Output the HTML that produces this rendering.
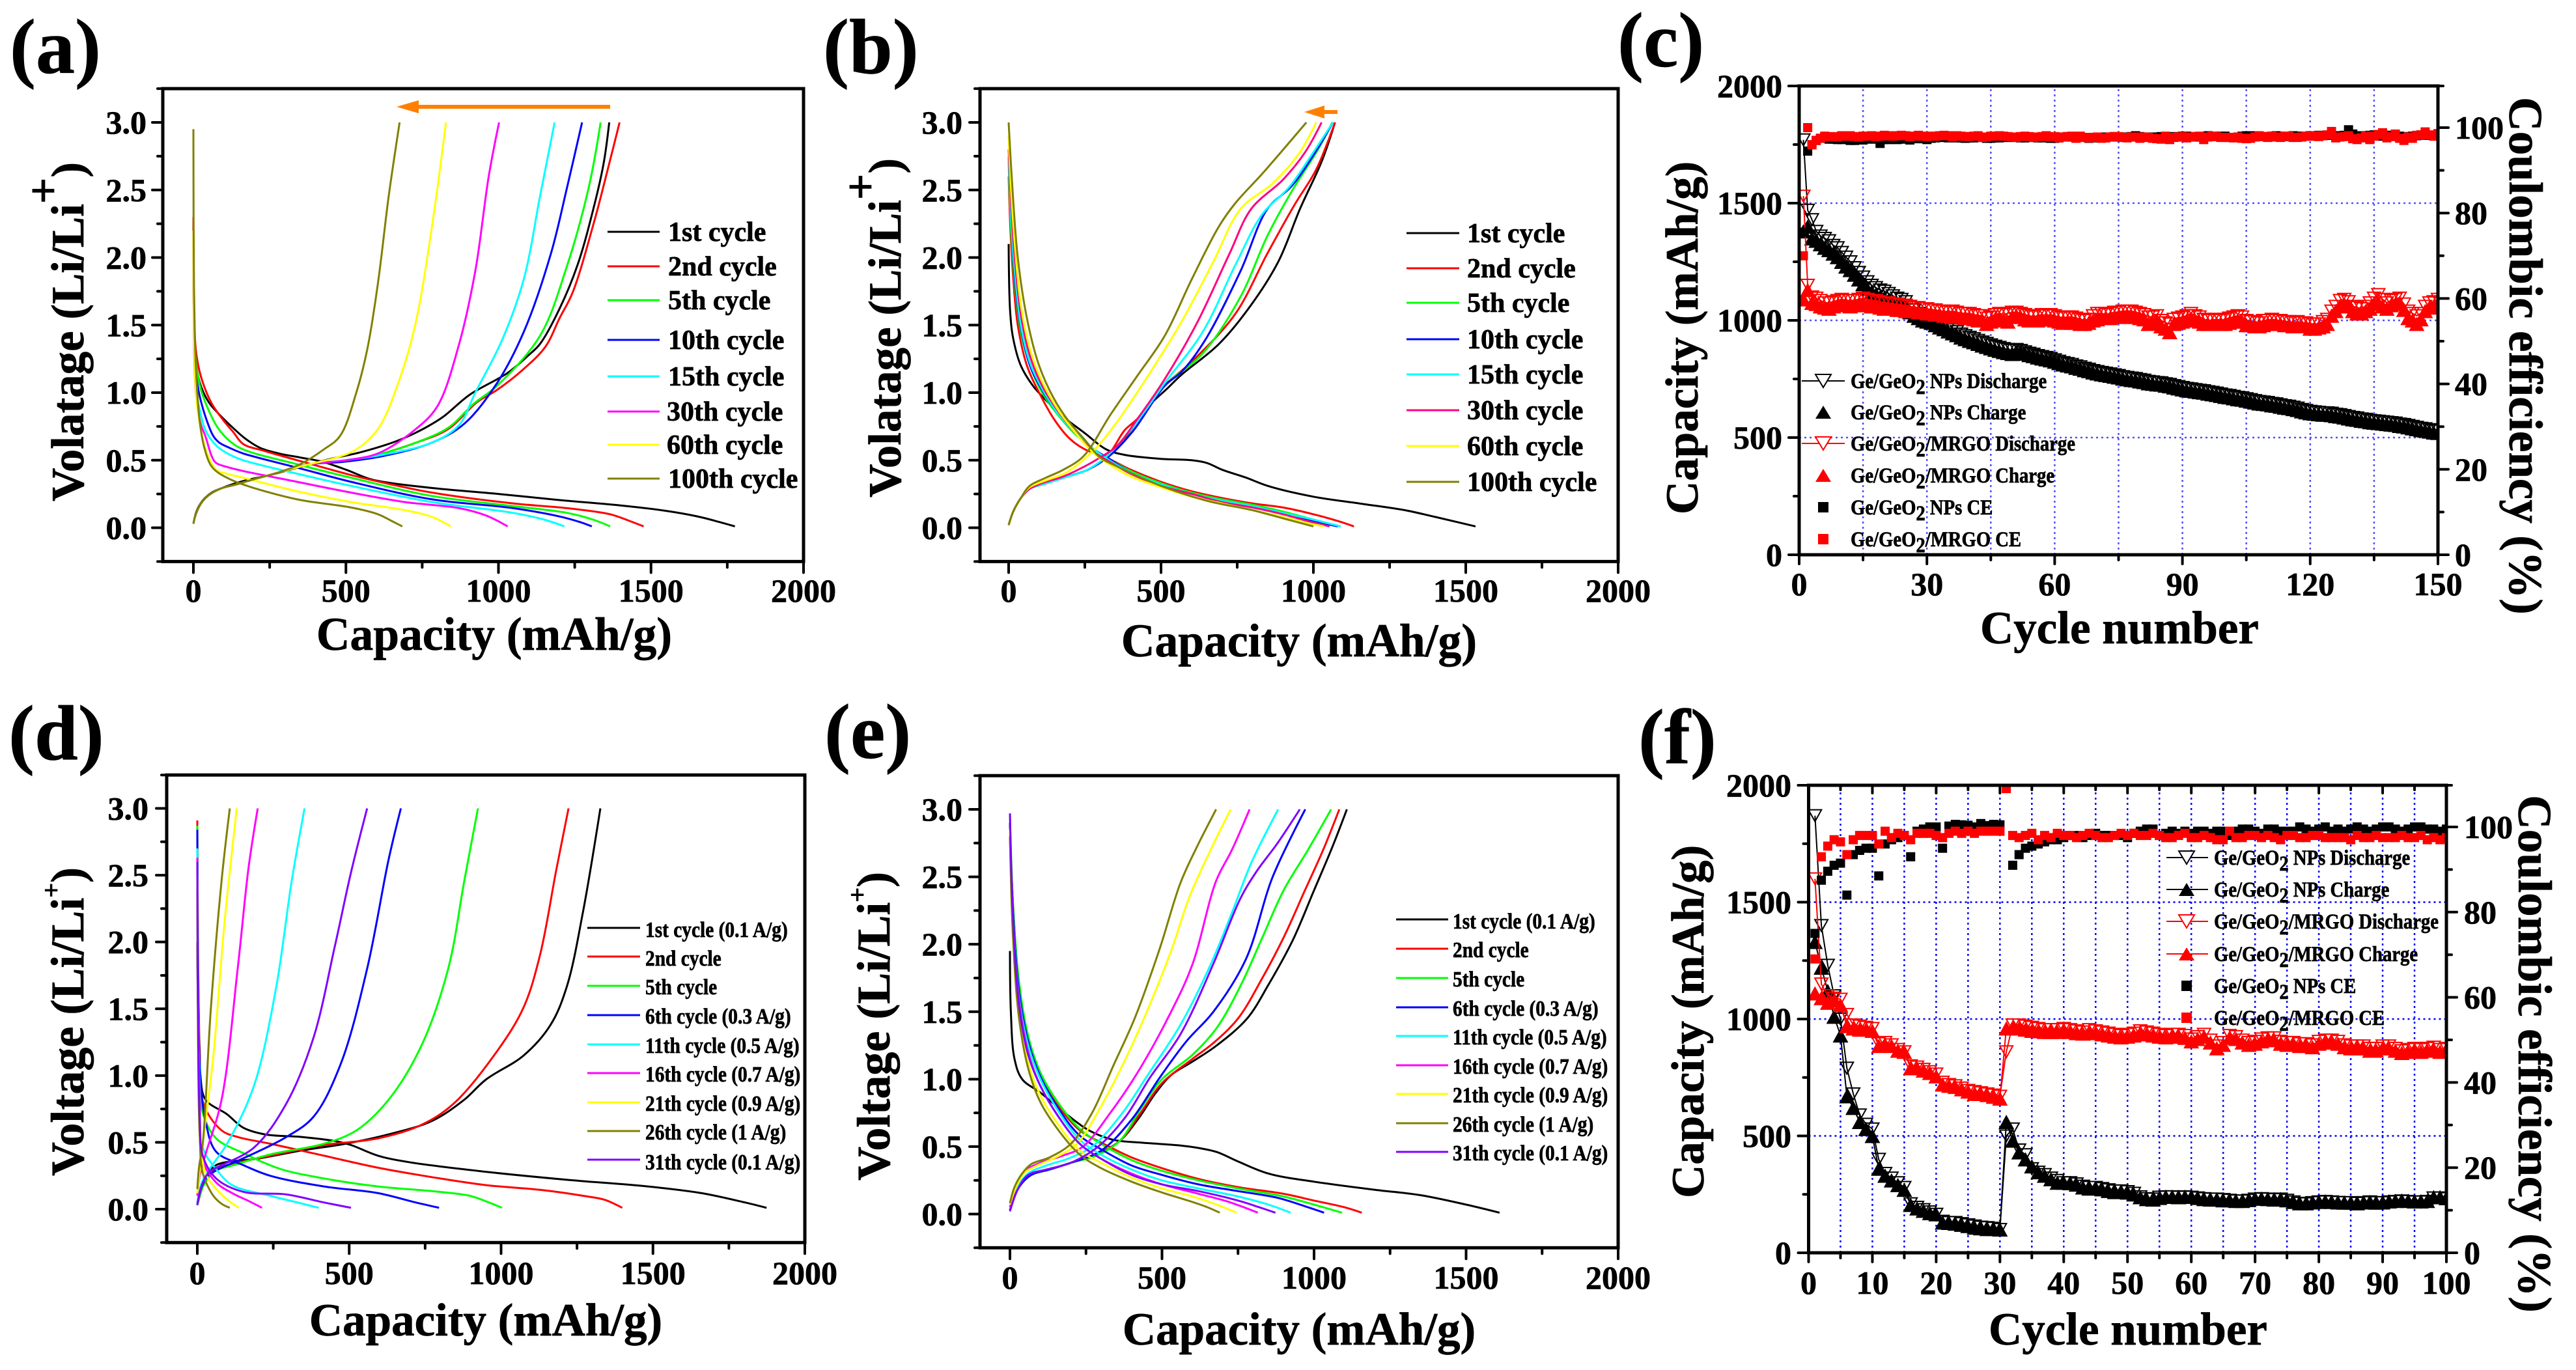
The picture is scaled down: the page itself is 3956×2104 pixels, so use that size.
<!DOCTYPE html>
<html lang="en">
<head>
<meta charset="utf-8">
<title>Electrochemical performance charts</title>
<style>
html,body{margin:0;padding:0;background:#fff;}
svg{display:block;}
text{font-family:"Liberation Serif",serif;font-weight:bold;fill:#000;stroke:#000;stroke-width:0.7px;}
</style>
</head>
<body>
<svg id="figure" xmlns="http://www.w3.org/2000/svg" width="3956" height="2104" viewBox="0 0 3956 2104">
<rect x="0" y="0" width="3956" height="2104" fill="#fff"/>
<defs>
<clipPath id="clipC"><rect x="2763" y="132" width="981" height="720"/></clipPath>
<clipPath id="clipF"><rect x="2777" y="1206" width="980" height="718"/></clipPath>
</defs>

<text x="15" y="112" font-size="120">(a)</text>
<text x="1264" y="112" font-size="120">(b)</text>
<text x="2484" y="102" font-size="120">(c)</text>
<text x="13" y="1166" font-size="120">(d)</text>
<text x="1266" y="1164" font-size="120">(e)</text>
<text x="2516" y="1172" font-size="120">(f)</text>

<g id="plots"></g>

<text x="759" y="998" font-size="71.5" text-anchor="middle">Capacity (mAh/g)</text>
<text x="1995" y="1008" font-size="71.5" text-anchor="middle">Capacity (mAh/g)</text>
<text x="3255" y="988" font-size="71" text-anchor="middle">Cycle number</text>
<text x="746" y="2051" font-size="71" text-anchor="middle">Capacity (mAh/g)</text>
<text x="1995" y="2065" font-size="71" text-anchor="middle">Capacity (mAh/g)</text>
<text x="3268" y="2065" font-size="71" text-anchor="middle">Cycle number</text>

<text transform="translate(128,770) rotate(-90)" font-size="71">Volatage (Li/Li<tspan dy="-38">+</tspan><tspan dy="38">)</tspan></text>
<text transform="translate(1383,764) rotate(-90)" font-size="71">Volatage (Li/Li<tspan dy="-38">+</tspan><tspan dy="38">)</tspan></text>
<text transform="translate(2607,790) rotate(-90)" font-size="71">Capacity (mAh/g)</text>
<text transform="translate(128,1806) rotate(-90)" font-size="72">Voltage (Li/Li<tspan dy="-36" font-size="40">+</tspan><tspan dy="36">)</tspan></text>
<text transform="translate(1366,1813) rotate(-90)" font-size="72">Voltage (Li/Li<tspan dy="-36" font-size="40">+</tspan><tspan dy="36">)</tspan></text>
<text transform="translate(2616,1840) rotate(-90)" font-size="71">Capacity (mAh/g)</text>
<text transform="translate(3854,149) rotate(90)" font-size="73">Coulombic efficiency (%)</text>
<text transform="translate(3868,1221) rotate(90)" font-size="73">Coulombic efficiency (%)</text>

<polygon fill="#ff8000" points="937,161 643,161 643,154 609,164 643,174 643,167 937,167"/>
<polygon fill="#ff8000" points="2054,169 2034,169 2034,162 2003,172 2034,182 2034,175 2054,175"/>

<g id="legend-a" font-size="42">
<text x="1026" y="370">1st cycle</text>
<text x="1026" y="423">2nd cycle</text>
<text x="1026" y="475">5th cycle</text>
<text x="1026" y="536">10th cycle</text>
<text x="1026" y="592">15th cycle</text>
<text x="1024" y="646">30th cycle</text>
<text x="1024" y="697">60th cycle</text>
<text x="1026" y="749">100th cycle</text>
</g>
<g id="legend-b" font-size="42">
<text x="2253" y="372">1st cycle</text>
<text x="2253" y="426">2nd cycle</text>
<text x="2253" y="479">5th cycle</text>
<text x="2253" y="535">10th cycle</text>
<text x="2253" y="589">15th cycle</text>
<text x="2253" y="644">30th cycle</text>
<text x="2253" y="699">60th cycle</text>
<text x="2253" y="754">100th cycle</text>
</g>
<g id="legend-d" font-size="34">
<text transform="translate(991,1439) scale(0.865,1)">1st cycle (0.1 A/g)</text>
<text transform="translate(991,1483) scale(0.865,1)">2nd cycle</text>
<text transform="translate(991,1527) scale(0.865,1)">5th cycle</text>
<text transform="translate(991,1572) scale(0.865,1)">6th cycle (0.3 A/g)</text>
<text transform="translate(991,1617) scale(0.865,1)">11th cycle (0.5 A/g)</text>
<text transform="translate(991,1661) scale(0.865,1)">16th cycle (0.7 A/g)</text>
<text transform="translate(991,1706) scale(0.865,1)">21th cycle (0.9 A/g)</text>
<text transform="translate(991,1750) scale(0.865,1)">26th cycle (1 A/g)</text>
<text transform="translate(991,1796) scale(0.865,1)">31th cycle (0.1 A/g)</text>
</g>
<g id="legend-e" font-size="34">
<text transform="translate(2231,1426) scale(0.865,1)">1st cycle (0.1 A/g)</text>
<text transform="translate(2231,1470) scale(0.865,1)">2nd cycle</text>
<text transform="translate(2231,1515) scale(0.865,1)">5th cycle</text>
<text transform="translate(2231,1560) scale(0.865,1)">6th cycle (0.3 A/g)</text>
<text transform="translate(2231,1604) scale(0.865,1)">11th cycle (0.5 A/g)</text>
<text transform="translate(2231,1649) scale(0.865,1)">16th cycle (0.7 A/g)</text>
<text transform="translate(2231,1693) scale(0.865,1)">21th cycle (0.9 A/g)</text>
<text transform="translate(2231,1738) scale(0.865,1)">26th cycle (1 A/g)</text>
<text transform="translate(2231,1782) scale(0.865,1)">31th cycle (0.1 A/g)</text>
</g>
<g id="legend-c" font-size="33">
<text transform="translate(2842,596) scale(0.87,1)">Ge/GeO<tspan dy="9">2</tspan><tspan dy="-9"> NPs Discharge</tspan></text>
<text transform="translate(2842,644) scale(0.87,1)">Ge/GeO<tspan dy="9">2</tspan><tspan dy="-9"> NPs Charge</tspan></text>
<text transform="translate(2842,692) scale(0.87,1)">Ge/GeO<tspan dy="9">2</tspan><tspan dy="-9">/MRGO Discharge</tspan></text>
<text transform="translate(2842,741) scale(0.87,1)">Ge/GeO<tspan dy="9">2</tspan><tspan dy="-9">/MRGO Charge</tspan></text>
<text transform="translate(2842,790) scale(0.87,1)">Ge/GeO<tspan dy="9">2</tspan><tspan dy="-9"> NPs CE</tspan></text>
<text transform="translate(2842,839) scale(0.87,1)">Ge/GeO<tspan dy="9">2</tspan><tspan dy="-9">/MRGO CE</tspan></text>
</g>
<g id="legend-f" font-size="33">
<text transform="translate(3400,1328) scale(0.87,1)">Ge/GeO<tspan dy="9">2</tspan><tspan dy="-9"> NPs Discharge</tspan></text>
<text transform="translate(3400,1377) scale(0.87,1)">Ge/GeO<tspan dy="9">2</tspan><tspan dy="-9"> NPs Charge</tspan></text>
<text transform="translate(3400,1426) scale(0.87,1)">Ge/GeO<tspan dy="9">2</tspan><tspan dy="-9">/MRGO Discharge</tspan></text>
<text transform="translate(3400,1476) scale(0.87,1)">Ge/GeO<tspan dy="9">2</tspan><tspan dy="-9">/MRGO Charge</tspan></text>
<text transform="translate(3400,1525) scale(0.87,1)">Ge/GeO<tspan dy="9">2</tspan><tspan dy="-9"> NPs CE</tspan></text>
<text transform="translate(3400,1574) scale(0.87,1)">Ge/GeO<tspan dy="9">2</tspan><tspan dy="-9">/MRGO CE</tspan></text>
</g>
</svg>

<script>
/* ===== shared tick values ===== */
const capacityTicks=[0,500,1000,1500,2000];
const capacityMinorTicks=[250,750,1250,1750];
const voltageTicks=[0,0.5,1,1.5,2,2.5,3];
const voltageTickLabels=['0.0','0.5','1.0','1.5','2.0','2.5','3.0'];
const voltageMinorTicks=[-0.25,0.25,0.75,1.25,1.75,2.25,2.75,3.25];
const cycleCapacityTicks=[0,500,1000,1500,2000];
const cycleCapacityMinor=[250,750,1250,1750];
const efficiencyTicks=[0,20,40,60,80,100];
const efficiencyMinor=[10,30,50,70,90];
const cCycleTicks=[0,30,60,90,120,150];
const cCycleMinor=[15,45,75,105,135];
const fCycleTicks=[0,10,20,30,40,50,60,70,80,90,100];
const fCycleMinor=[5,15,25,35,45,55,65,75,85,95];

/* ===== panel (a) : capacity, voltage pairs ===== */
const a1D=[[0,2.3],[2,1.6],[8,1.25],[20,1.08],[50,.93],[80,.85],[120,.76],[170,.66],[220,.59],[280,.55],[350,.52],[420,.49],[500,.43],[580,.36],[650,.33],[800,.29],[1000,.25],[1200,.205],[1400,.165],[1550,.125],[1650,.085],[1720,.045],[1775,.01]];
const a1C=[[0,.03],[10,.12],[30,.2],[60,.26],[100,.3],[170,.35],[250,.39],[350,.45],[450,.51],[550,.56],[676,.65],[760,.74],[818,.82],[906,.985],[1030,1.146],[1100,1.28],[1136,1.36],[1200,1.62],[1260,1.95],[1310,2.35],[1345,2.7],[1363,3]];
const a2D=[[0,2.3],[3,1.5],[12,1.25],[30,1.08],[60,.92],[100,.79],[130,.71],[163,.62],[230,.57],[340,.5],[517,.39],[650,.32],[782,.26],[1048,.18],[1225,.145],[1366,.1],[1430,.05],[1476,.01]];
const a2C=[[0,.03],[8,.1],[25,.18],[50,.24],[90,.29],[140,.32],[200,.36],[280,.41],[380,.47],[500,.49],[620,.55],[730,.63],[835,.73],[930,.93],[995,1.02],[1080,1.17],[1154,1.34],[1200,1.55],[1243,1.74],[1313,2.26],[1358,2.65],[1397,3]];
const a5D=[[0,2.2],[3,1.45],[10,1.2],[25,1.02],[50,.87],[80,.74],[120,.64],[163,.58],[340,.47],[517,.37],[782,.235],[1048,.16],[1225,.11],[1310,.06],[1366,.01]];
const a5C=[[0,.03],[8,.1],[25,.18],[50,.24],[90,.29],[140,.32],[200,.36],[280,.41],[380,.47],[500,.49],[620,.55],[730,.63],[835,.74],[920,.92],[995,1.05],[1136,1.42],[1225,1.94],[1296,2.52],[1335,3]];
const a10D=[[0,2.2],[3,1.4],[8,1.15],[20,.98],[40,.82],[65,.68],[85,.63],[120,.59],[163,.55],[340,.445],[517,.34],[782,.21],[1048,.145],[1207,.08],[1270,.04],[1306,.01]];
const a10C=[[0,.03],[8,.1],[25,.18],[50,.24],[90,.29],[140,.32],[200,.36],[280,.41],[380,.47],[500,.49],[620,.53],[782,.63],[888,.77],[995,1.07],[1083,1.45],[1172,2.03],[1225,2.52],[1274,3]];
const a15D=[[0,2.1],[3,1.3],[8,1.05],[20,.88],[40,.72],[74,.61],[120,.54],[163,.5],[340,.4],[517,.31],[782,.19],[1048,.11],[1150,.06],[1216,.01]];
const a15C=[[0,.03],[8,.1],[25,.18],[50,.24],[90,.29],[140,.32],[200,.36],[280,.41],[380,.47],[500,.5],[620,.54],[782,.63],[871,.76],[924,1],[1012,1.39],[1083,1.84],[1136,2.45],[1184,3]];
const a30D=[[0,2.1],[3,1.25],[10,.95],[25,.76],[39,.68],[60,.53],[74,.48],[110,.45],[163,.42],[340,.34],[517,.26],[694,.19],[871,.145],[960,.09],[1030,.01]];
const a30C=[[0,.03],[8,.1],[25,.18],[50,.24],[90,.29],[140,.32],[200,.36],[280,.41],[380,.47],[500,.5],[605,.55],[729,.73],[800,.9],[871,1.36],[924,1.9],[968,2.6],[1002,3]];
const a60D=[[0,2.2],[3,1.3],[10,.95],[25,.72],[45,.55],[74,.43],[110,.4],[163,.37],[340,.27],[517,.19],[694,.13],[782,.08],[844,.01]];
const a60C=[[0,.03],[8,.1],[25,.18],[50,.24],[90,.29],[140,.32],[200,.36],[280,.41],[380,.47],[470,.52],[534,.58],[605,.73],[676,1.1],[729,1.52],[782,2.23],[828,3]];
const a100D=[[0,2.95],[2,1.8],[8,1.2],[20,.8],[35,.6],[55,.47],[74,.42],[110,.37],[163,.32],[340,.21],[517,.15],[605,.1],[650,.05],[685,.01]];
const a100C=[[0,.03],[8,.1],[25,.18],[50,.24],[90,.29],[140,.32],[200,.36],[280,.41],[350,.47],[428,.58],[481,.68],[534,1],[570,1.32],[605,1.81],[640,2.45],[676,3]];

/* ===== panel (b) ===== */
const b1D=[[0,2.1],[5,1.6],[15,1.4],[40,1.2],[80,1.05],[120,.95],[180,.82],[250,.7],[320,.58],[380,.54],[500,.51],[600,.5],[650,.48],[700,.43],[780,.37],[850,.31],[1000,.23],[1150,.18],[1300,.13],[1400,.08],[1532,.01]];
const b1C=[[0,.02],[15,.12],[40,.22],[70,.29],[110,.32],[180,.37],[260,.43],[340,.56],[400,.72],[459,.9],[520,1.03],[566,1.13],[690,1.36],[796,1.65],[885,1.97],[956,2.36],[1027,2.71],[1071,3]];
const b2D=[[0,2.6],[6,2.2],[15,1.85],[30,1.5],[60,1.2],[100,1],[150,.8],[200,.66],[250,.58],[320,.52],[400,.43],[500,.34],[600,.27],[700,.22],[800,.18],[900,.15],[1000,.1],[1080,.05],[1133,.01]];
const b2C=[[0,.02],[15,.12],[40,.22],[70,.29],[110,.32],[180,.37],[260,.43],[330,.55],[380,.72],[424,.81],[495,1.02],[601,1.23],[743,1.58],[849,2.03],[938,2.39],[1009,2.65],[1071,3]];
const b5D=[[0,2.7],[8,2.2],[20,1.8],[40,1.45],[70,1.2],[110,1],[160,.84],[220,.69],[280,.58],[330,.51],[400,.42],[500,.33],[600,.26],[700,.21],[800,.17],[900,.12],[1000,.06],[1089,.01]];
const b5C=[[0,.02],[15,.12],[40,.22],[70,.29],[110,.32],[180,.37],[260,.43],[330,.54],[406,.71],[512,1.05],[637,1.29],[761,1.71],[849,2.16],[929,2.49],[1018,2.81],[1062,3]];
const b10D=[[0,2.75],[8,2.3],[20,1.85],[40,1.48],[70,1.2],[110,1.02],[160,.85],[220,.7],[280,.58],[330,.51],[400,.41],[500,.32],[600,.25],[700,.2],[800,.16],[900,.11],[1000,.05],[1080,.01]];
const b10C=[[0,.02],[15,.12],[40,.22],[70,.29],[110,.32],[180,.37],[260,.43],[330,.53],[406,.71],[512,1.05],[570,1.16],[645,1.39],[761,1.9],[849,2.36],[929,2.53],[1009,2.79],[1064,3]];
const b15D=[[0,2.75],[8,2.3],[20,1.9],[40,1.5],[70,1.22],[110,1.03],[160,.85],[220,.7],[280,.58],[330,.5],[400,.41],[500,.32],[600,.25],[700,.2],[800,.16],[900,.11],[1000,.06],[1089,.01]];
const b15C=[[0,.02],[15,.12],[40,.22],[70,.29],[110,.32],[180,.37],[250,.42],[317,.52],[406,.74],[512,1.07],[637,1.45],[743,1.94],[832,2.32],[920,2.52],[1009,2.81],[1064,3]];
const b30D=[[0,2.8],[8,2.4],[20,2],[40,1.58],[70,1.27],[110,1.05],[160,.87],[220,.7],[280,.56],[330,.49],[400,.4],[500,.31],[600,.25],[700,.19],[800,.15],[900,.1],[980,.05],[1053,.01]];
const b30C=[[0,.02],[15,.12],[40,.22],[70,.29],[110,.33],[180,.38],[246,.45],[300,.52],[353,.6],[424,.81],[512,1.1],[619,1.52],[725,2.03],[796,2.36],[902,2.58],[973,2.78],[1027,3]];
const b60D=[[0,2.9],[8,2.5],[20,2.1],[40,1.65],[70,1.32],[110,1.08],[160,.88],[220,.7],[280,.55],[330,.47],[400,.38],[500,.3],[600,.23],[700,.18],[800,.13],[900,.08],[970,.04],[1035,.01]];
const b60C=[[0,.02],[15,.12],[40,.22],[69,.3],[122,.35],[190,.41],[282,.58],[353,.775],[459,1.13],[566,1.52],[672,1.97],[761,2.36],[867,2.55],[956,2.78],[1009,3]];
const b100D=[[0,3],[10,2.6],[30,2],[60,1.55],[100,1.2],[150,.95],[200,.78],[250,.65],[300,.52],[350,.46],[500,.31],[650,.2],[800,.13],[900,.07],[1000,.01]];
const b100C=[[0,.02],[15,.12],[40,.22],[69,.31],[122,.37],[180,.43],[246,.53],[335,.84],[424,1.13],[512,1.42],[601,1.84],[690,2.23],[743,2.4],[832,2.62],[977,3]];

/* ===== panel (d) ===== */
const d1D=[[0,2],[3,1.4],[10,1],[27,.82],[98,.71],[151,.61],[222,.56],[346,.54],[453,.51],[506,.48],[595,.4],[702,.35],[950,.28],[1217,.22],[1483,.17],[1660,.12],[1803,.05],[1874,.01]];
const d1C=[[0,.03],[15,.15],[35,.26],[62,.33],[204,.38],[346,.44],[488,.49],[630,.56],[772,.66],[879,.82],[950,.97],[1074,1.15],[1163,1.38],[1217,1.67],[1270,2.23],[1327,3]];
const d2D=[[0,2.91],[3,1.8],[8,1.2],[20,.79],[80,.59],[133,.54],[240,.49],[417,.4],[595,.31],[772,.24],[950,.18],[1128,.145],[1270,.1],[1341,.07],[1399,.01]];
const d2C=[[0,.03],[15,.15],[35,.24],[62,.3],[120,.34],[240,.4],[417,.48],[595,.53],[737,.63],[844,.79],[986,1.18],[1074,1.51],[1128,1.9],[1181,2.53],[1222,3]];
const d5D=[[0,2.87],[3,1.8],[8,1.1],[18,.72],[62,.53],[151,.42],[275,.3],[417,.23],[595,.17],[772,.135],[897,.1],[960,.05],[1003,.01]];
const d5C=[[0,.03],[15,.15],[35,.23],[62,.29],[120,.33],[240,.41],[417,.49],[524,.59],[630,.82],[737,1.22],[826,1.8],[879,2.46],[924,3]];
const d6D=[[0,2.84],[3,1.7],[10,1],[27,.66],[62,.43],[151,.33],[240,.25],[417,.17],[595,.12],[719,.05],[796,.01]];
const d6C=[[0,.04],[15,.17],[35,.25],[70,.3],[151,.38],[293,.54],[382,.69],[471,1.08],[559,1.8],[630,2.62],[670,3]];
const d11D=[[0,2.7],[3,1.5],[8,.9],[18,.46],[62,.3],[115,.18],[240,.1],[330,.05],[400,.01]];
const d11C=[[0,.05],[15,.2],[40,.3],[98,.49],[186,.92],[258,1.64],[311,2.46],[353,3]];
const d16D=[[0,2.63],[3,1.4],[8,.8],[18,.36],[62,.2],[115,.12],[170,.06],[213,.01]];
const d16C=[[0,.1],[8,.25],[27,.41],[80,.82],[133,1.8],[169,2.56],[199,3]];
const d21D=[[0,2.5],[3,1.2],[10,.6],[27,.27],[71,.13],[105,.06],[137,.01]];
const d21C=[[0,.12],[8,.28],[18,.49],[53,1.15],[89,2.13],[130,3]];
const d26D=[[0,2.4],[3,1.1],[8,.55],[18,.27],[53,.1],[80,.04],[107,.01]];
const d26C=[[0,.15],[6,.32],[18,.49],[44,1.48],[80,2.46],[107,3]];
const d31D=[[0,2.6],[3,1.3],[8,.7],[18,.4],[62,.23],[151,.13],[293,.11],[417,.05],[506,.01]];
const d31C=[[0,.03],[15,.18],[40,.28],[62,.31],[186,.46],[293,.79],[382,1.28],[453,1.97],[506,2.52],[559,3]];

/* ===== panel (e) ===== */
const e1D=[[0,1.95],[3,1.5],[15,1.15],[40,1],[100,.9],[180,.75],[260,.62],[340,.55],[430,.53],[550,.51],[620,.49],[680,.46],[750,.39],[850,.3],[1000,.24],[1200,.18],[1350,.14],[1500,.07],[1610,.01]];
const e1C=[[0,.03],[30,.2],[70,.29],[130,.33],[200,.38],[280,.44],[360,.54],[420,.7],[480,.9],[530,1.03],[600,1.13],[680,1.25],[780,1.45],[850,1.7],[930,2.03],[1000,2.4],[1060,2.72],[1108,3]];
const e2D=[[0,2.9],[10,2.3],[30,1.7],[60,1.3],[100,1.03],[160,.8],[230,.62],[300,.53],[400,.42],[500,.34],[620,.26],[750,.2],[900,.15],[1000,.1],[1100,.05],[1157,.01]];
const e2C=[[0,.03],[30,.2],[70,.29],[130,.33],[200,.38],[280,.44],[360,.54],[430,.75],[500,.97],[600,1.15],[670,1.27],[750,1.45],[830,1.75],[900,2.05],[970,2.4],[1030,2.7],[1083,3]];
const e5D=[[0,2.97],[10,2.3],[30,1.72],[60,1.32],[100,1.05],[160,.82],[230,.63],[300,.52],[400,.4],[500,.32],[620,.25],[750,.19],[900,.13],[1000,.07],[1092,.01]];
const e5C=[[0,.03],[30,.2],[70,.29],[130,.33],[200,.38],[280,.43],[360,.54],[430,.78],[500,1],[600,1.18],[680,1.38],[760,1.7],[830,2.05],[900,2.4],[980,2.7],[1056,3]];
const e6D=[[0,2.9],[10,2.25],[30,1.65],[60,1.28],[100,1.02],[160,.78],[230,.58],[300,.48],[400,.36],[500,.29],[620,.22],[750,.17],[880,.12],[980,.05],[1033,.01]];
const e6C=[[0,.03],[30,.2],[70,.29],[130,.33],[200,.38],[300,.47],[400,.7],[492,1.01],[580,1.28],[669,1.5],[776,1.89],[864,2.5],[971,3]];
const e11D=[[0,2.85],[10,2.2],[30,1.6],[60,1.25],[100,1],[160,.76],[230,.55],[300,.44],[400,.33],[500,.25],[620,.19],[750,.13],[850,.07],[923,.01]];
const e11C=[[0,.04],[25,.2],[60,.3],[120,.36],[190,.41],[270,.5],[370,.75],[450,1.02],[560,1.4],[660,1.85],[731,2.24],[793,2.6],[882,3]];
const e16D=[[0,2.8],[10,2.15],[30,1.58],[60,1.2],[100,.95],[160,.72],[230,.52],[300,.41],[400,.3],[500,.22],[620,.15],[720,.09],[815,.01]];
const e16C=[[0,.05],[20,.2],[50,.32],[100,.38],[170,.43],[240,.5],[330,.75],[420,1.05],[530,1.5],[600,1.85],[678,2.47],[730,2.7],[788,3]];
const e21D=[[0,2.85],[10,2.1],[30,1.5],[60,1.12],[100,.88],[160,.66],[230,.47],[300,.38],[400,.27],[500,.19],[600,.13],[680,.07],[745,.01]];
const e21C=[[0,.07],[20,.2],[50,.31],[90,.36],[150,.42],[220,.52],[300,.8],[380,1.15],[450,1.5],[530,1.95],[590,2.35],[660,2.7],[726,3]];
const e26D=[[0,2.8],[10,2.05],[30,1.45],[60,1.08],[100,.83],[160,.62],[230,.44],[300,.34],[400,.24],[500,.16],[600,.09],[650,.05],[690,.01]];
const e26C=[[0,.08],[15,.2],[40,.3],[70,.37],[130,.42],[200,.52],[270,.75],[340,1.1],[410,1.45],[490,1.95],[560,2.45],[610,2.7],[678,3]];
const e31D=[[0,2.97],[10,2.2],[30,1.55],[60,1.18],[100,.95],[160,.72],[230,.52],[300,.41],[400,.29],[500,.22],[620,.17],[750,.1],[820,.05],[873,.01]];
const e31C=[[0,.02],[25,.18],[60,.29],[120,.33],[200,.38],[290,.5],[380,.72],[460,1.01],[560,1.33],[669,1.855],[758,2.34],[811,2.54],[880,2.75],[953,3]];

/* ===== panel (c) : one value per cycle ===== */
const cNpDischarge=[1770,1470,1430,1380,1360,1350,1340,1320,1310,1290,1270,1250,1225,1205,1185,1165,1150,1140,1130,1125,1115,1105,1095,1090,1080,1060,1045,1030,1015,1008,1005,995,985,978,968,960,952,942,935,928,922,915,908,902,896,890,885,880,876,872,876,872,866,860,856,850,846,842,838,832,826,820,816,812,806,802,796,792,786,782,778,775,772,768,765,760,757,754,752,748,745,740,738,735,734,730,727,722,718,714,710,708,705,702,700,696,693,690,686,682,680,676,672,670,666,662,658,654,652,650,646,644,640,636,634,630,626,620,616,612,610,608,606,606,604,600,598,594,590,586,584,580,578,574,572,570,568,566,564,562,558,556,552,548,544,540,538,534,530,528];
const cNpCharge=[1380,1400,1350,1340,1325,1310,1300,1285,1270,1250,1230,1215,1195,1175,1155,1135,1120,1110,1100,1095,1085,1075,1070,1065,1050,1035,1020,1010,1000,995,990,980,970,963,953,945,937,927,920,913,907,900,893,887,881,875,870,865,861,857,868,864,858,852,848,842,838,834,830,824,818,812,808,804,798,794,788,784,778,774,770,767,764,760,757,752,749,746,744,740,737,732,730,727,726,722,719,714,710,706,702,700,697,694,692,688,685,682,678,674,672,668,664,662,658,654,650,646,644,642,638,636,632,628,626,622,618,612,608,604,602,600,598,598,596,592,590,586,582,578,576,572,570,566,564,562,560,558,556,554,550,548,544,540,536,532,530,526,522,520];
const cMrgoDischarge=[1530,1150,1100,1095,1085,1075,1075,1080,1085,1090,1085,1085,1085,1090,1095,1090,1085,1085,1080,1075,1075,1070,1070,1065,1065,1060,1055,1055,1050,1050,1045,1045,1040,1040,1035,1040,1035,1030,1030,1030,1025,1020,1020,1010,1015,1025,1030,1025,1030,1035,1035,1030,1025,1020,1015,1020,1025,1020,1025,1020,1015,1010,1015,1015,1010,1005,1000,1005,1020,1030,1030,1025,1030,1035,1035,1040,1040,1040,1035,1030,1025,1015,1015,1020,1000,990,985,1005,1010,1015,1020,1030,1020,1015,1005,1000,1000,1005,1000,1005,1010,1015,1020,1015,1000,995,995,990,1000,1000,1005,1000,1000,995,995,990,995,990,990,985,985,985,995,1005,1040,1060,1085,1090,1080,1060,1055,1050,1060,1075,1095,1110,1090,1075,1085,1090,1095,1070,1040,1030,1020,1030,1060,1075,1080,1090];
const cMrgoCharge=[1090,1130,1075,1070,1060,1055,1050,1060,1065,1070,1065,1060,1065,1070,1070,1065,1060,1060,1055,1050,1050,1050,1045,1045,1040,1040,1040,1035,1035,1030,1030,1025,1025,1020,1020,1015,1015,1015,1010,1010,1005,1000,1000,985,995,1005,1010,1000,995,1015,1020,1015,1005,1000,1000,1000,1005,1005,1005,1000,995,990,995,990,990,985,985,990,1000,1005,1010,1010,1010,1015,1015,1020,1020,1015,1015,1010,1005,985,990,1000,975,965,950,985,990,995,1000,1005,1000,995,985,985,985,985,985,985,990,995,1000,995,980,980,975,975,980,985,985,985,985,980,980,975,975,975,975,965,965,970,975,985,1020,1040,1060,1065,1060,1040,1030,1030,1040,1050,1070,1075,1060,1050,1065,1070,1075,1045,1010,1000,985,1005,1040,1055,1060,1070];
const cNpCe=[75.5,94.5,96,97,97.5,97.5,97.3,97.3,97.2,97.2,97.3,97,97,97.2,97.1,97.3,97.4,97.3,96.3,97.2,97.2,97.4,97.2,97.5,97.3,97.1,97.5,97.4,97.4,97.2,97.5,97.6,97.7,97.7,97.6,97.7,97.6,97.6,97.5,97.6,97.6,97.7,97.7,97.5,97.5,97.6,97.6,97.7,97.7,97.7,97.7,97.6,97.6,97.7,97.7,97.6,97.6,97.7,97.5,97.5,97.6,97.8,97.9,97.8,97.7,97.8,97.7,97.5,97.7,97.6,97.6,97.8,97.8,97.9,97.8,97.7,97.8,97.9,98.1,97.9,97.8,97.7,97.8,97.8,97.9,97.6,97.6,97.9,97.8,98,98,97.9,97.8,97.9,97.9,98.1,98,97.9,98,98,97.7,97.7,97.8,98,98.1,98,98.1,98,97.9,97.9,98,98.1,98,98,97.9,98.1,98,98,98,98.1,98.1,98.2,98.1,98.2,98.2,98.1,98.1,98.2,99.5,98.5,98.1,98,98.1,98.2,98.3,98.1,98,98.2,98.2,98,98,97.9,97.8,98,98.1,98.3,98.2,98.2,98.1,98.1];
const cMrgoCe=[70,100,96,97,97.5,98,97.8,97.9,97.8,98.1,98,98.1,97.9,97.8,98,98,98.1,97.9,98,98.2,98.1,98,98.1,98.2,98.1,97.9,98,98.2,98,97.9,98,98,98.1,98.2,98.1,97.8,98.1,98,97.9,97.9,98,98.1,97.7,97.8,98,98,98.1,98,97.9,97.8,97.7,97.9,98,97.9,97.7,97.8,97.9,98.1,97.8,97.9,97.6,97.8,97.9,98,97.5,98,97.7,97.6,97.7,97.8,97.5,97.6,97.8,97.9,97.9,97.7,97.6,97.8,97.8,97.5,97.8,97.7,97.5,97.4,97.3,98,97.2,97.7,97.8,97.9,97.6,97.8,97.9,98,97.2,97.8,98,97.9,97.7,97.7,97.7,97.6,97.8,97.5,97.4,97.5,97.8,98.1,97.9,97.7,98,97.8,97.7,98,98,97.7,97.7,97.8,98,98,98.1,97.9,98.1,98.3,99.1,97.6,97.8,97.9,98.1,97.4,97.2,97.6,98,97.2,98,98.4,98.8,97.6,97.9,98.5,97.5,97,97.8,97.5,98.2,98.3,99,98.3,98,98.6];

/* ===== panel (f) : one value per cycle ===== */
const fNpDischarge=[1870,1400,1230,1100,1000,790,680,590,550,530,400,340,320,300,280,210,195,185,175,165,135,130,130,125,120,115,110,108,105,100,500,530,440,420,360,345,335,320,310,300,300,295,285,280,280,275,270,265,265,262,255,240,232,230,238,240,240,238,240,238,235,232,230,230,228,225,222,222,225,230,232,230,228,230,225,218,212,210,215,218,220,218,216,215,215,212,215,218,215,215,218,220,222,220,218,218,220,235,235,232];
const fNpCharge=[1330,1220,1120,1010,930,670,620,560,530,500,360,330,310,290,270,205,190,180,170,165,130,128,125,120,115,108,105,102,102,100,560,480,430,400,370,345,330,315,300,300,298,292,280,275,278,272,265,260,262,258,250,238,230,228,235,240,240,238,240,240,235,230,228,228,225,225,222,222,226,232,232,230,228,230,225,218,212,212,216,218,220,218,216,215,215,212,216,218,215,216,220,222,224,222,220,220,222,238,238,234];
const fMrgoDischarge=[1600,1150,1100,1090,1085,1020,975,970,965,960,895,900,890,870,860,800,795,785,775,765,730,720,715,705,695,690,685,680,675,670,860,975,975,970,965,960,955,955,955,960,955,950,945,955,950,945,940,935,930,935,940,950,945,940,935,930,935,935,930,915,925,935,910,885,900,930,925,910,900,905,915,920,920,905,900,900,895,895,890,905,910,910,905,890,885,885,885,875,875,885,885,875,865,870,875,870,875,880,870,875];
const fMrgoCharge=[1110,1090,1070,1080,1060,970,960,955,955,950,885,890,885,865,860,790,790,780,770,755,720,715,710,700,690,680,680,675,668,660,960,965,960,955,950,948,945,945,945,950,945,940,938,945,940,935,930,925,922,925,930,940,935,930,925,922,925,925,920,905,915,925,900,875,890,920,915,900,890,895,905,910,910,895,890,890,885,885,880,895,900,900,895,880,875,875,875,865,865,875,875,865,855,860,865,860,865,870,860,865];
const fNpCe=[75,87.5,89.6,91,91.5,84,93.5,94.5,95,95,88.5,96,97,97.5,98,93,99,99.5,100,100,95,100.2,100.6,100.5,100.4,100,100.8,100.3,100.6,100.5,111,91,93.5,95,95.5,96,96.5,97,97,97.5,98,98,97.5,98,98.5,98,98,98,98,97.5,98.5,99,99.5,99.5,98,98.5,99,98.5,99,98.5,99,99,98.5,99,99,98,99,99.5,99.5,99,98.5,99.5,99.5,99,99,99,100,99.5,99,99.5,100,99,99.5,99,99.5,100,99.5,99,99.5,100,100,99.5,99,99.5,100,100,99.5,99.5,99,99.5];
const fMrgoCe=[69,93,95.5,97,96.5,93.5,97,98,98,98,96,99,97.5,98.5,98,97,98.5,98.5,98.5,98,97.5,98.5,99,98.5,99,98.5,99,99,99,99,109,98,97.5,98,98.5,97,98,97.5,98.5,98,98,97.5,98,98.5,98,97.5,97.5,98,98.5,98,98.5,98,98,98.5,98,97.5,97.5,98,98.5,97.5,97.5,98,97.5,97,97,99,97.5,97.5,98,98,97.5,98,97.5,97,98,98,97.5,97.5,98,98,97.5,97.5,97.5,97.5,97,98,97.5,97.5,98,97.5,97.5,97.5,98,97.5,97.5,98,97,97.5,97,97.5];

/* ===== series groupings ===== */
const aCurves=[[a1D,a1C],[a2D,a2C],[a5D,a5C],[a10D,a10C],[a15D,a15C],[a30D,a30C],[a60D,a60C],[a100D,a100C]];
const bCurves=[[b1D,b1C],[b2D,b2C],[b5D,b5C],[b10D,b10C],[b15D,b15C],[b30D,b30C],[b60D,b60C],[b100D,b100C]];
const dCurves=[[d1D,d1C],[d2D,d2C],[d5D,d5C],[d6D,d6C],[d11D,d11C],[d16D,d16C],[d21D,d21C],[d26D,d26C],[d31D,d31C]];
const eCurves=[[e1D,e1C],[e2D,e2C],[e5D,e5C],[e6D,e6C],[e11D,e11C],[e16D,e16C],[e21D,e21C],[e26D,e26C],[e31D,e31C]];
const abCycleNames=['1st','2nd','5th','10th','15th','30th','60th','100th'];
const deCycleNames=['1st','2nd','5th','6th','11th','16th','21st','26th','31st'];

const NS='http://www.w3.org/2000/svg';
const plots=document.getElementById('plots');

function scale(d0,d1,p0,p1){return function(v){return p0+(v-d0)*(p1-p0)/(d1-d0);};}
function make(tag,attrs,parent){
  const n=document.createElementNS(NS,tag);
  for(const k in attrs){n.setAttribute(k,attrs[k]);}
  parent.appendChild(n);
  return n;
}
/* centripetal Catmull-Rom through pixel points, as cubic Beziers */
function smoothPath(p){
  let s='M'+p[0][0].toFixed(1)+' '+p[0][1].toFixed(1);
  for(let i=0;i<p.length-1;i++){
    const p0=p[i-1]||p[i],p1=p[i],p2=p[i+1],p3=p[i+2]||p[i+1];
    const d1=Math.hypot(p1[0]-p0[0],p1[1]-p0[1]),d2=Math.hypot(p2[0]-p1[0],p2[1]-p1[1]),d3=Math.hypot(p3[0]-p2[0],p3[1]-p2[1]);
    const r1=Math.sqrt(d1),r2=Math.sqrt(d2),r3=Math.sqrt(d3);
    let b1=p1,b2=p2;
    if(d1>0&&d2>0){
      const n=2*d1+3*r1*r2+d2,m=3*r1*(r1+r2);
      b1=[(d1*p2[0]-d2*p0[0]+n*p1[0])/m,(d1*p2[1]-d2*p0[1]+n*p1[1])/m];
    }
    if(d3>0&&d2>0){
      const n=2*d3+3*r3*r2+d2,m=3*r3*(r3+r2);
      b2=[(d3*p1[0]-d2*p3[0]+n*p2[0])/m,(d3*p1[1]-d2*p3[1]+n*p2[1])/m];
    }
    s+='C'+b1[0].toFixed(1)+' '+b1[1].toFixed(1)+' '+b2[0].toFixed(1)+' '+b2[1].toFixed(1)+' '+p2[0].toFixed(1)+' '+p2[1].toFixed(1);
  }
  return s;
}
function tick(parent,name,x1,y1,x2,y2,w){
  const t=make('line',{x1:x1,y1:y1,x2:x2,y2:y2,stroke:'#000','stroke-width':w,'stroke-linecap':'round'},parent);
  
  
}
function label(parent,name,str,x,y,anchor,size){
  const t=make('text',{x:x,y:y,'text-anchor':anchor,'font-size':size},parent);
  t.textContent=str;
  
  
}
function frame(parent,name,x0,y0,x1,y1){
  const r=make('rect',{x:x0,y:y0,width:x1-x0,height:y1-y0,fill:'none',stroke:'#000','stroke-width':5},parent);
  
  
}

/* Voltage-capacity panels */
function drawVoltagePanel(id,box,curves,colors,names,legendX0,legendX1,legendRows,xLabelY,yLabelX){
  const g=make('g',{},plots);
  
  
  const x=scale(0,2000,box.x0,box.x2000);
  const y=scale(0,3,box.y0,box.y3);
  curves.forEach(function(pair,i){
    pair.forEach(function(pts,j){
      const p=make('path',{d:smoothPath(pts.map(function(d){return [x(d[0]),y(d[1])];})),fill:'none',stroke:colors[i],'stroke-width':3,'stroke-linejoin':'round'},g);
      
      
    });
    const l=make('line',{x1:legendX0,x2:legendX1,y1:legendRows[i],y2:legendRows[i],stroke:colors[i],'stroke-width':3},g);
    
    
  });
  const left=box.left,right=box.x2000,top=y(3.25),bottom=y(-0.25);
  frame(g,'plot-frame-'+id,left,top,right,bottom);
  capacityTicks.forEach(function(v){
    tick(g,'x-tick-'+id+'-'+v,x(v),bottom,x(v),bottom+17,4);
    label(g,'x-tick-label-'+id+'-'+v,String(v),x(v),xLabelY,'middle',50);
  });
  capacityMinorTicks.forEach(function(v){
    tick(g,'x-minor-tick-'+id+'-'+v,x(v),bottom,x(v),bottom+9,4);
  });
  voltageTicks.forEach(function(v,i){
    tick(g,'y-tick-'+id+'-'+v,left,y(v),left-16,y(v),4);
    label(g,'y-tick-label-'+id+'-'+v,voltageTickLabels[i],yLabelX,y(v)+17,'end',50);
  });
  voltageMinorTicks.forEach(function(v){
    tick(g,'y-minor-tick-'+id+'-'+v,left,y(v),left-8,y(v),4);
  });
}

const abColors=['#000','#ff0000','#00ff00','#0000ff','#00ffff','#ff00ff','#ffff00','#808000'];
const bColors=['#000','#ff0000','#00ff00','#0000ff','#00ffff','#ff0080','#ffff00','#808000'];
const deColors=['#000','#ff0000','#00ff00','#0000ff','#00ffff','#ff00ff','#ffff00','#808000','#8000ff'];

drawVoltagePanel('a',{left:250,x0:297,x2000:1234,y0:810.5,y3:188},aCurves,abColors,abCycleNames,933,1013,[356,409,461,522,578,632,683,735],924,225);
drawVoltagePanel('b',{left:1505,x0:1549,x2000:2485,y0:810.5,y3:188},bCurves,bColors,abCycleNames,2160,2241,[358,412,465,521,575,630,685,740],924,1478);
drawVoltagePanel('d',{left:256,x0:303,x2000:1236,y0:1857,y3:1241.5},dCurves,deColors,deCycleNames,902,983,[1425,1469,1514,1559,1604,1648,1693,1737,1781],1972,228);
drawVoltagePanel('e',{left:1505,x0:1551,x2000:2485,y0:1864.5,y3:1243},eCurves,deColors,deCycleNames,2144,2224,[1412,1457,1502,1547,1591,1636,1680,1725,1769],1979,1478);

/* Cycling panels */
function triangle(cx,cy,up,w,h){
  const s=up?-1:1;
  return (cx-w/2)+','+(cy-s*h/2)+' '+(cx+w/2)+','+(cy-s*h/2)+' '+cx+','+(cy+s*h/2);
}
function drawSeries(g,id,name,values,x,y,kind,color,withLine,markerW,markerH){
  if(withLine){
    const pl=make('polyline',{points:values.map(function(v,i){return x(i+1).toFixed(1)+','+y(v).toFixed(1);}).join(' '),fill:'none',stroke:color,'stroke-width':2},g);
    
    
  }
  values.forEach(function(v,i){
    let m;
    if(kind==='square'){
      m=make('rect',{x:x(i+1)-7,y:y(v)-7,width:14,height:14,fill:color},g);
    }else if(kind==='up'){
      m=make('polygon',{points:triangle(x(i+1),y(v),true,markerW,markerH),fill:color},g);
    }else{
      m=make('polygon',{points:triangle(x(i+1),y(v),false,markerW,markerH),fill:'none',stroke:color,'stroke-width':2},g);
    }
    
    
  });
}
function legendMark(g,id,name,kind,color,cx,cy,lineX0,lineX1,withLine){
  if(withLine){
    const l=make('line',{x1:lineX0,x2:lineX1,y1:cy,y2:cy,stroke:color,'stroke-width':2},g);
    
    
  }
  let m;
  if(kind==='square'){
    m=make('rect',{x:cx-8,y:cy-8,width:16,height:16,fill:color},g);
  }else if(kind==='up'){
    m=make('polygon',{points:triangle(cx,cy,true,24,20),fill:color},g);
  }else{
    m=make('polygon',{points:triangle(cx,cy,false,24,20),fill:'#fff',stroke:color,'stroke-width':2},g);
  }
  
  
}
function drawCyclePanel(id,o){
  const g=make('g',{},plots);
  
  
  const x=scale(0,o.maxCycle,o.x0,o.x1);
  const y=scale(0,2000,o.y0,o.y1);
  const yr=scale(0,100,o.y0,o.y100);
  const grid=make('g',{},g);
  
  
  o.cycleTicks.concat(o.cycleMinor).forEach(function(v){
    if(v===0||v===o.maxCycle)return;
    const l=make('line',{x1:x(v),x2:x(v),y1:o.y0,y2:o.y1,stroke:o.gridColor,'stroke-width':2.5,'stroke-dasharray':'3 5'},grid);
    
    
  });
  cycleCapacityTicks.forEach(function(v){
    if(v===0||v===2000)return;
    const l=make('line',{x1:o.x0,x2:o.x1,y1:y(v),y2:y(v),stroke:o.gridColor,'stroke-width':2.5,'stroke-dasharray':'3 5'},grid);
    
    
  });
  const clipped=make('g',{'clip-path':'url(#'+o.clip+')'},g);
  
  
  drawSeries(clipped,id,'np-discharge',o.npD,x,y,'down','#000',true,20,18);
  drawSeries(clipped,id,'np-charge',o.npC,x,y,'up','#000',o.chargeLine,o.triW,o.triH);
  drawSeries(clipped,id,'mrgo-discharge',o.mrD,x,y,'down','#ff0000',true,20,18);
  drawSeries(clipped,id,'mrgo-charge',o.mrC,x,y,'up','#ff0000',o.chargeLine,o.triW,o.triH);
  drawSeries(clipped,id,'np-ce',o.npE,x,yr,'square','#000',false);
  drawSeries(clipped,id,'mrgo-ce',o.mrE,x,yr,'square','#ff0000',false);
  frame(g,'plot-frame-'+id,o.x0,o.y1,o.x1,o.y0);
  tick(g,'top-frame-stub-left-'+id,o.x0-16,o.y1,o.x0,o.y1,4);
  tick(g,'top-frame-stub-right-'+id,o.x1,o.y1,o.x1+8,o.y1,4);
  o.cycleTicks.forEach(function(v){
    tick(g,'x-tick-'+id+'-'+v,x(v),o.y0,x(v),o.y0+14,4);
    label(g,'x-tick-label-'+id+'-'+v,String(v),x(v),o.xLabelY,'middle',50);
    if(o.topTicks&&v>0&&v<o.maxCycle){tick(g,'top-tick-'+id+'-'+v,x(v),o.y1,x(v),o.y1+12,4);}
  });
  o.cycleMinor.forEach(function(v){
    tick(g,'x-minor-tick-'+id+'-'+v,x(v),o.y0,x(v),o.y0+8,4);
    if(o.topTicks){tick(g,'top-minor-tick-'+id+'-'+v,x(v),o.y1,x(v),o.y1+7,4);}
  });
  cycleCapacityTicks.forEach(function(v){
    tick(g,'y-tick-'+id+'-'+v,o.x0,y(v),o.x0-16,y(v),4);
    label(g,'y-tick-label-'+id+'-'+v,String(v),o.yLabelX,y(v)+17,'end',50);
  });
  cycleCapacityMinor.forEach(function(v){
    tick(g,'y-minor-tick-'+id+'-'+v,o.x0,y(v),o.x0-8,y(v),4);
  });
  efficiencyTicks.forEach(function(v){
    tick(g,'right-tick-'+id+'-'+v,o.x1,yr(v),o.x1+16,yr(v),4);
    label(g,'right-tick-label-'+id+'-'+v,String(v),o.rLabelX,yr(v)+17,'start',50);
  });
  efficiencyMinor.forEach(function(v){
    tick(g,'right-minor-tick-'+id+'-'+v,o.x1,yr(v),o.x1+8,yr(v),4);
  });
  legendMark(g,id,'np-discharge','down','#000',o.lx,o.rows[0],o.lx0,o.lx1,true);
  legendMark(g,id,'np-charge','up','#000',o.lx,o.rows[1],o.lx0,o.lx1,o.chargeLine);
  legendMark(g,id,'mrgo-discharge','down','#ff0000',o.lx,o.rows[2],o.lx0,o.lx1,true);
  legendMark(g,id,'mrgo-charge','up','#ff0000',o.lx,o.rows[3],o.lx0,o.lx1,o.chargeLine);
  legendMark(g,id,'np-ce','square','#000',o.lx,o.rows[4]);
  legendMark(g,id,'mrgo-ce','square','#ff0000',o.lx,o.rows[5]);
}
drawCyclePanel('c',{maxCycle:150,x0:2763,x1:3744,y0:852,y1:132,y100:196,clip:'clipC',gridColor:'#5050ff',
  cycleTicks:cCycleTicks,cycleMinor:cCycleMinor,topTicks:false,chargeLine:false,triW:24,triH:22,
  npD:cNpDischarge,npC:cNpCharge,mrD:cMrgoDischarge,mrC:cMrgoCharge,npE:cNpCe,mrE:cMrgoCe,
  xLabelY:914,yLabelX:2737,rLabelX:3770,lx:2800,lx0:2767,lx1:2833,rows:[585,633,681,730,779,828]});
drawCyclePanel('f',{maxCycle:100,x0:2777.5,x1:3757,y0:1924,y1:1206,y100:1270,clip:'clipF',gridColor:'#0000ff',
  cycleTicks:fCycleTicks,cycleMinor:fCycleMinor,topTicks:true,chargeLine:true,triW:24,triH:22,
  npD:fNpDischarge,npC:fNpCharge,mrD:fMrgoDischarge,mrC:fMrgoCharge,npE:fNpCe,mrE:fMrgoCe,
  xLabelY:1987,yLabelX:2751,rLabelX:3784,lx:3358,lx0:3327,lx1:3391,rows:[1317,1366,1415,1465,1514,1563]});
</script>
</body>
</html>
